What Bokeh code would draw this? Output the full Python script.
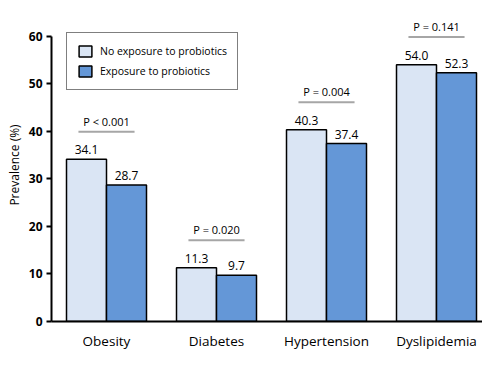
from bokeh.plotting import figure
from bokeh.models import Range1d, FixedTicker, ColumnDataSource, Legend, LegendItem, LabelSet
from bokeh.core.properties import value
from bokeh.embed import file_html
from bokeh.resources import INLINE

categories = ["Obesity", "Diabetes", "Hypertension", "Dyslipidemia"]
no_exposure = [34.1, 11.3, 40.3, 54.0]
exposure = [28.7, 9.7, 37.4, 52.3]
p_values = ["P < 0.001", "P = 0.020", "P = 0.004", "P = 0.141"]
series_names = ["No exposure to probiotics", "Exposure to probiotics"]

FONT = "Open Sans"
light = "#DAE5F4"
dark = "#6497D7"

centers = [i + 0.5 for i in range(len(categories))]
bw = 40 / 110
x1 = [c - bw / 2 for c in centers]
x2 = [c + bw / 2 for c in centers]
line_y = [max(a, b) + 5.8 for a, b in zip(no_exposure, exposure)]

p = figure(width=482, height=357, output_backend="svg", toolbar_location=None,
           x_range=Range1d(0, 431 / 110), y_range=Range1d(0, 65.8),
           min_border_left=51, min_border_right=0, min_border_top=8, min_border_bottom=36)
p.outline_line_color = None
p.grid.visible = False

s1 = ColumnDataSource(dict(x=x1, top=no_exposure, lab=[f"{v:.1f}" for v in no_exposure]))
s2 = ColumnDataSource(dict(x=x2, top=exposure, lab=[f"{v:.1f}" for v in exposure]))
r1 = p.vbar(x="x", top="top", width=bw, bottom=0, source=s1, fill_color=light,
            line_color="black", line_width=1.5)
r2 = p.vbar(x="x", top="top", width=bw, bottom=0, source=s2, fill_color=dark,
            line_color="black", line_width=1.5)

for src in (s1, s2):
    p.add_layout(LabelSet(x="x", y="top", text="lab", source=src, text_align="center",
                          text_baseline="bottom", y_offset=5, text_font=value(FONT),
                          text_font_size="12px", text_color="black"))

ps = ColumnDataSource(dict(x0=[c - 0.255 for c in centers], x1=[c + 0.255 for c in centers],
                           xc=centers, y=line_y, lab=p_values))
p.segment(x0="x0", y0="y", x1="x1", y1="y", source=ps, line_color="#A6A6A6", line_width=2)
p.add_layout(LabelSet(x="xc", y="y", text="lab", source=ps, text_align="center",
                      text_baseline="bottom", y_offset=3, text_font=value(FONT),
                      text_font_size="11px", text_color="black"))

p.yaxis.ticker = FixedTicker(ticks=[0, 10, 20, 30, 40, 50, 60])
p.yaxis.bounds = (0, 60)
p.yaxis.axis_label = "Prevalence (%)"
p.yaxis.axis_label_text_font = FONT
p.yaxis.axis_label_text_font_style = "normal"
p.yaxis.axis_label_text_font_size = "12px"
p.yaxis.axis_label_text_color = "black"
p.yaxis.axis_label_standoff = 3
p.yaxis.major_label_standoff = 4
p.yaxis.major_label_text_font = FONT
p.yaxis.major_label_text_font_style = "bold"
p.yaxis.major_label_text_font_size = "12px"
p.yaxis.major_label_text_color = "black"
p.yaxis.major_tick_out = 5
p.yaxis.major_tick_in = 0
p.yaxis.minor_tick_line_color = None
p.yaxis.axis_line_width = 2
p.yaxis.major_tick_line_width = 2

p.xaxis.ticker = FixedTicker(ticks=centers)
p.xaxis.major_label_overrides = {c: n for c, n in zip(centers, categories)}
p.xaxis.major_tick_line_color = None
p.xaxis.minor_tick_line_color = None
p.xaxis.axis_line_width = 2
p.xaxis.major_label_text_font = FONT
p.xaxis.major_label_text_font_size = "13.5px"
p.xaxis.major_label_text_color = "black"
p.xaxis.major_label_standoff = 4

legend = Legend(items=[LegendItem(label=series_names[0], renderers=[r1]),
                       LegendItem(label=series_names[1], renderers=[r2])],
                location=(15, 231))
legend.border_line_color = "black"
legend.border_line_width = 1.5
legend.label_text_font = FONT
legend.label_text_font_size = "10.5px"
legend.label_text_color = "black"
legend.glyph_width = 16
legend.glyph_height = 14
legend.spacing = 4
legend.padding = 10
legend.margin = 0
legend.label_standoff = 7
legend.label_height = 16
p.add_layout(legend, "center")

open("out.html", "w").write(file_html(p, INLINE))
